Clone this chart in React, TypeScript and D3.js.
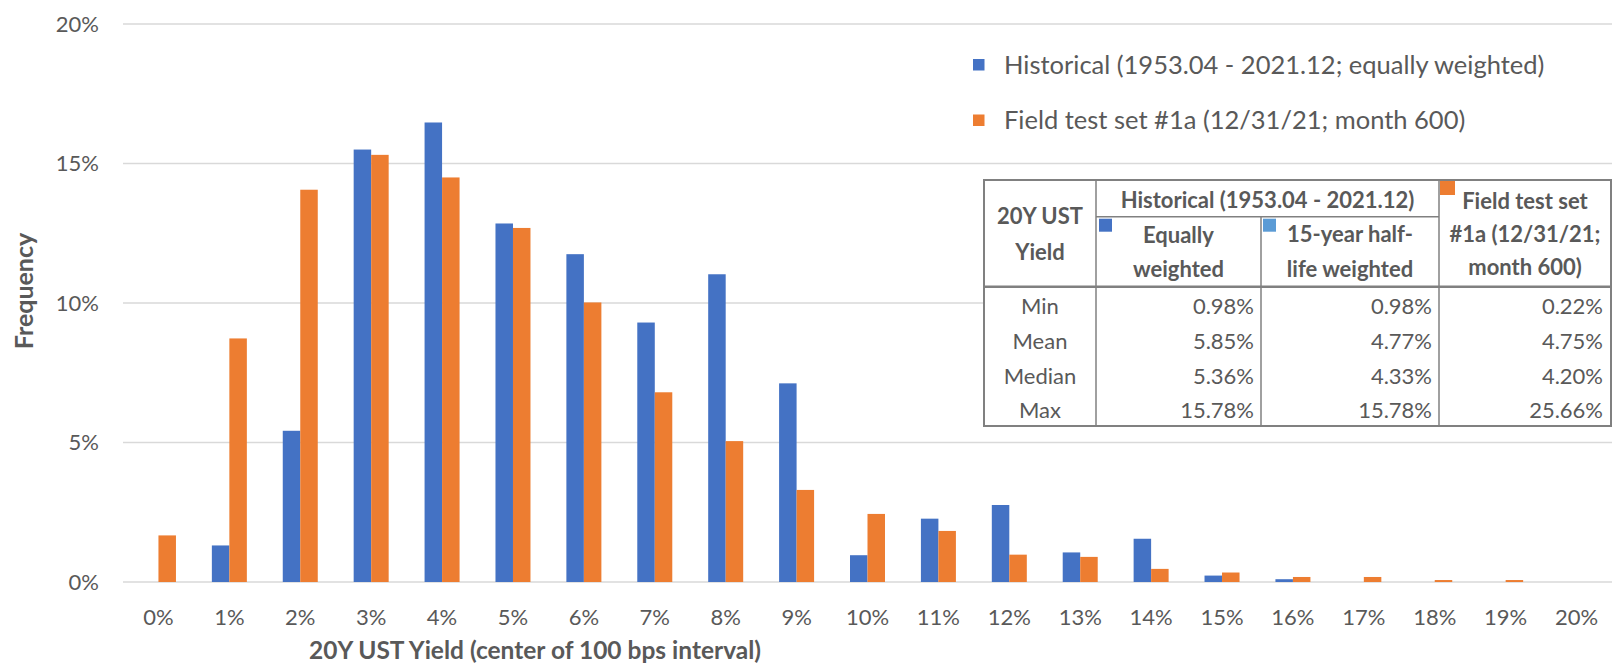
import React from 'react';
import * as d3 from 'd3';

// yield buckets (center of 100 bps interval)
const CATEGORIES = [
  '0%', '1%', '2%', '3%', '4%', '5%', '6%', '7%', '8%', '9%', '10%',
  '11%', '12%', '13%', '14%', '15%', '16%', '17%', '18%', '19%', '20%',
];

// frequency in percent
const HISTORICAL = [
  0, 1.31, 5.42, 15.5, 16.47, 12.85, 11.75, 9.3, 11.03, 7.12, 0.96,
  2.27, 2.76, 1.06, 1.55, 0.23, 0.1, 0, 0, 0, 0,
];
const FIELD_TEST = [
  1.67, 8.73, 14.06, 15.31, 14.5, 12.69, 10.02, 6.8, 5.05, 3.3, 2.44,
  1.83, 0.98, 0.9, 0.47, 0.34, 0.18, 0.18, 0.07, 0.07, 0,
];

const Y_TICKS = [0, 5, 10, 15, 20];

const SERIES = ['Historical (1953.04 - 2021.12; equally weighted)', 'Field test set #1a (12/31/21; month 600)'];
const COLORS = ['#4472C4', '#ED7D31'];
const LIGHT_BLUE = '#5B9BD5';

const STAT_NAMES = ['Min', 'Mean', 'Median', 'Max'];
const STAT_EQUAL = ['0.98%', '5.85%', '5.36%', '15.78%'];
const STAT_HALFLIFE = ['0.98%', '4.77%', '4.33%', '15.78%'];
const STAT_FIELD = ['0.22%', '4.75%', '4.20%', '25.66%'];

const W = 1616;
const H = 664;
const FONT = 'Lato, "Open Sans", sans-serif';
const TEXT = '#595959';
const GRID = '#d9d9d9';
const BORDER = '#808080';

export default function App() {
  const margin = { top: 24, right: 4, bottom: 82, left: 123 };
  const plotBottom = H - margin.bottom;

  const x = d3.scaleBand<string>()
    .domain(CATEGORIES)
    .range([margin.left, W - margin.right])
    .padding(0);

  const barW = 17.5;
  const xSub = d3.scaleBand<number>()
    .domain([0, 1])
    .range([-barW, barW]);

  const y = d3.scaleLinear()
    .domain([0, 20])
    .range([plotBottom, margin.top]);

  const series = [HISTORICAL, FIELD_TEST];

  // table geometry
  const tL = 984, tR = 1611, tT = 180, tB = 426;
  const c1 = 1096, c2 = 1261, c3 = 1439;
  const subLine = 216.7, headLine = 286.7;
  const rowY = [306.7, 341.7, 376, 410];

  return (
    <div style={{ position: 'fixed', left: 0, top: 0 }}>
      <svg width={W} height={H} style={{ display: 'block', background: '#fff' }} fontFamily={FONT}>
        {/* gridlines */}
        {Y_TICKS.map(t => (
          <line key={t} x1={margin.left} x2={W - margin.right} y1={y(t)} y2={y(t)}
            stroke={GRID} strokeWidth={1.6} />
        ))}
        {Y_TICKS.map(t => (
          <text key={'yl' + t} x={99} y={y(t)} dy="0.35em" textAnchor="end"
            fontSize={22} fill={TEXT}>{t}%</text>
        ))}

        {/* bars */}
        {series.map((vals, si) => (
          <g key={si} fill={COLORS[si]}>
            {CATEGORIES.map((c, i) => {
              const v = vals[i];
              if (!v) return null;
              const cx = (x(c) as number) + x.bandwidth() / 2;
              return (
                <rect key={c} x={cx + (xSub(si) as number)} width={xSub.bandwidth()}
                  y={y(v)} height={y(0) - y(v)} />
              );
            })}
          </g>
        ))}

        {/* x tick labels */}
        {CATEGORIES.map(c => (
          <text key={'xl' + c} x={(x(c) as number) + x.bandwidth() / 2} y={617} dy="0.35em"
            textAnchor="middle" fontSize={22} fill={TEXT}>{c}</text>
        ))}

        {/* axis titles */}
        <text x={535} y={650} dy="0.35em" textAnchor="middle" fontSize={24.5} fontWeight="bold" fill={TEXT}>
          20Y UST Yield (center of 100 bps interval)
        </text>
        <text transform="translate(24,291) rotate(-90)" dy="0.35em"
          textAnchor="middle" fontSize={25} fontWeight="bold" fill={TEXT}>Frequency</text>

        {/* legend */}
        {SERIES.map((s, i) => (
          <g key={s} transform={`translate(973,${65 + i * 55.5})`}>
            <rect x={0} y={-6} width={11.5} height={11.5} fill={COLORS[i]} />
            <text x={31} y={0} dy="0.35em" fontSize={25.5} fill={TEXT}>{s}</text>
          </g>
        ))}

        {/* stats table */}
        <g fill={TEXT} fontSize={22}>
          <rect x={tL} y={tT} width={tR - tL} height={tB - tT} fill="#fff" stroke={BORDER} strokeWidth={2} />
          <line x1={c1} x2={c1} y1={tT} y2={tB} stroke={BORDER} strokeWidth={1.5} />
          <line x1={c3} x2={c3} y1={tT} y2={tB} stroke={BORDER} strokeWidth={1.5} />
          <line x1={c2} x2={c2} y1={subLine} y2={tB} stroke={BORDER} strokeWidth={1.5} />
          <line x1={c1} x2={c3} y1={subLine} y2={subLine} stroke={BORDER} strokeWidth={1.5} />
          <line x1={tL} x2={tR} y1={headLine} y2={headLine} stroke={BORDER} strokeWidth={2.5} />

          <rect x={c1 + 3} y={subLine + 2} width={13} height={13} fill={COLORS[0]} />
          <rect x={c2 + 2} y={subLine + 2} width={13} height={13} fill={LIGHT_BLUE} />
          <rect x={c3 + 1} y={tT + 1} width={15} height={14} fill={COLORS[1]} />

          <g fontWeight="bold" textAnchor="middle">
            <text x={(tL + c1) / 2} y={216.7} dy="0.35em">20Y UST</text>
            <text x={(tL + c1) / 2} y={252.7} dy="0.35em">Yield</text>
            <text x={(c1 + c3) / 2} y={200.5} dy="0.35em">Historical (1953.04 - 2021.12)</text>
            <text x={(c1 + c2) / 2} y={235} dy="0.35em">Equally</text>
            <text x={(c1 + c2) / 2} y={269.5} dy="0.35em">weighted</text>
            <text x={(c2 + c3) / 2} y={234} dy="0.35em">15-year half-</text>
            <text x={(c2 + c3) / 2} y={269.5} dy="0.35em">life weighted</text>
            <text x={(c3 + tR) / 2} y={201.7} dy="0.35em">Field test set</text>
            <text x={(c3 + tR) / 2} y={234} dy="0.35em">#1a (12/31/21;</text>
            <text x={(c3 + tR) / 2} y={267} dy="0.35em">month 600)</text>
          </g>

          {STAT_NAMES.map((n, i) => (
            <g key={n}>
              <text x={(tL + c1) / 2} y={rowY[i]} dy="0.35em" textAnchor="middle">{n}</text>
              <text x={c2 - 7} y={rowY[i]} dy="0.35em" textAnchor="end">{STAT_EQUAL[i]}</text>
              <text x={c3 - 7} y={rowY[i]} dy="0.35em" textAnchor="end">{STAT_HALFLIFE[i]}</text>
              <text x={tR - 8} y={rowY[i]} dy="0.35em" textAnchor="end">{STAT_FIELD[i]}</text>
            </g>
          ))}
        </g>
      </svg>
    </div>
  );
}
